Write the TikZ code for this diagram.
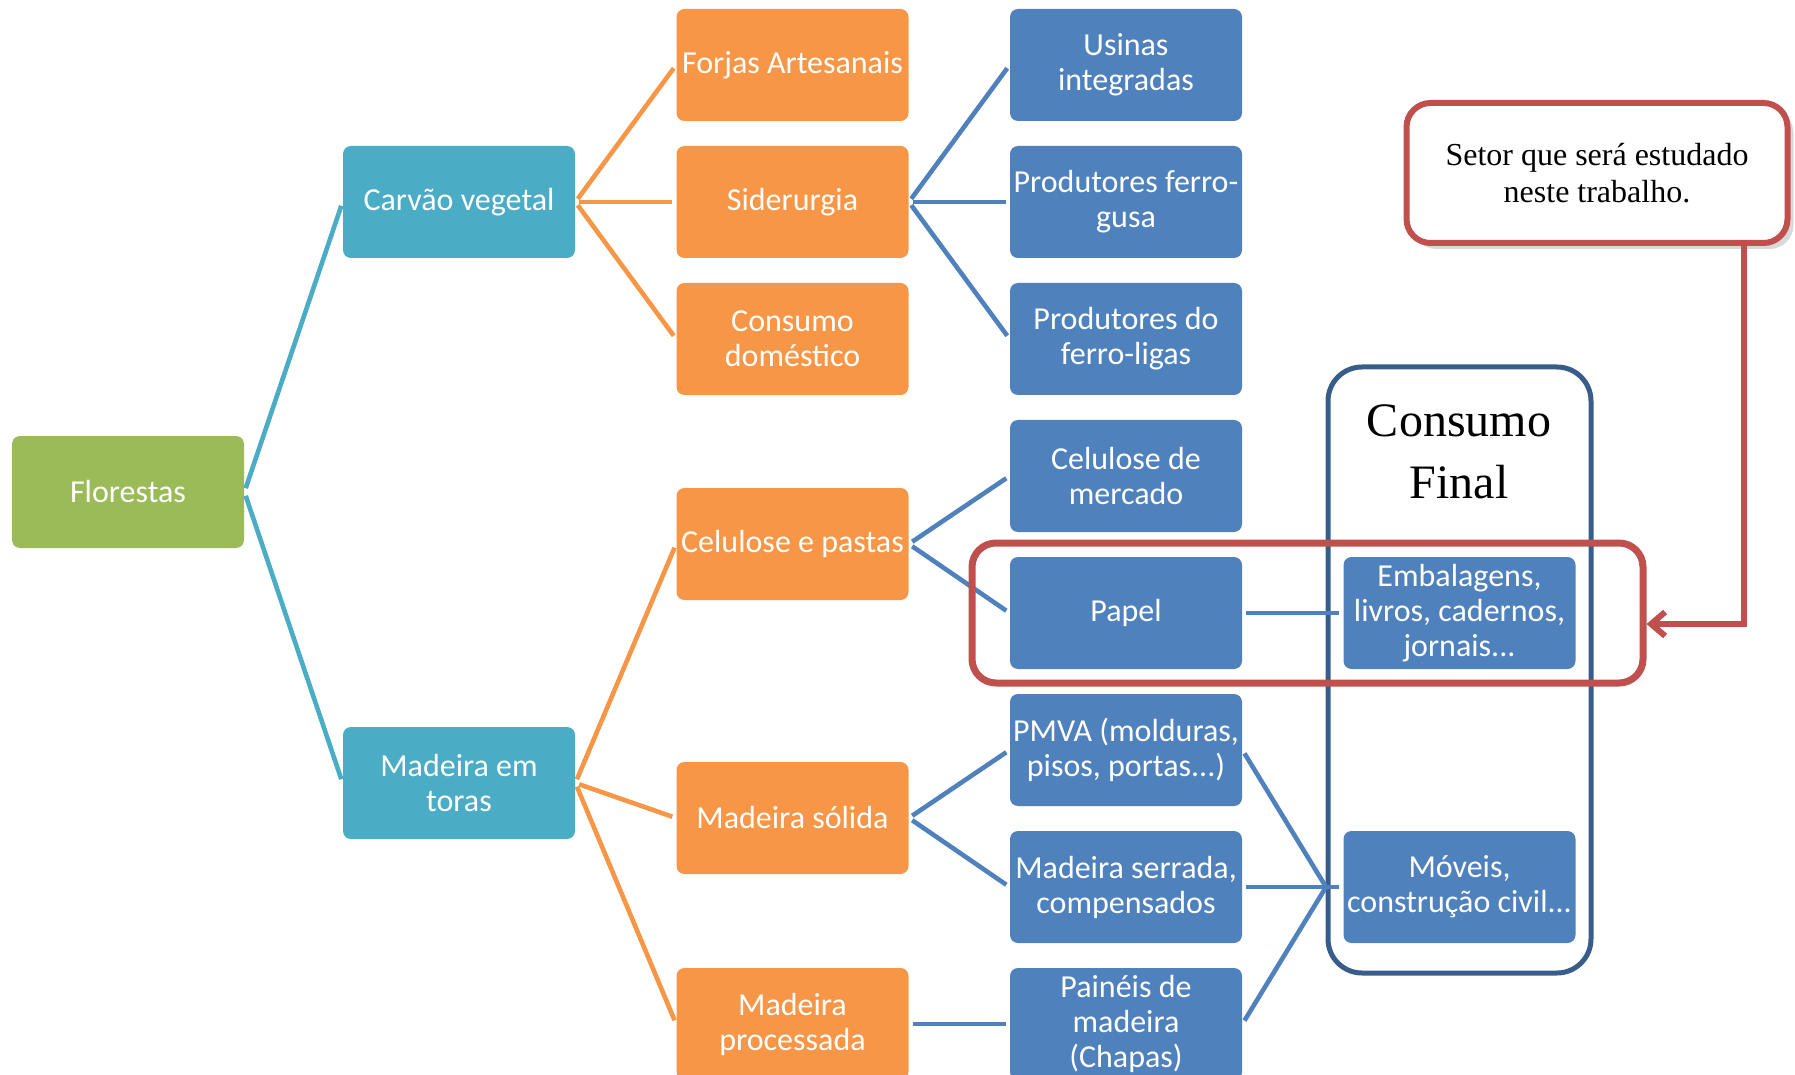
\documentclass[tikz,border=0pt]{standalone}
\usepackage{fontspec}
\setmainfont{Carlito}
\newfontfamily\fonteserif{Liberation Serif}
\usetikzlibrary{arrows.meta,shadows}

\definecolor{verde}{HTML}{9BBB59}
\definecolor{ciano}{HTML}{4BACC6}
\definecolor{laranja}{HTML}{F79646}
\definecolor{azul}{HTML}{4F81BD}
\definecolor{azulescuro}{HTML}{385D8A}
\definecolor{vermelho}{HTML}{C0504D}

\tikzset{
  caixa/.style={rounded corners=4pt, minimum width=116pt, minimum height=56pt,
    inner sep=1pt, align=center, text=white, font=\fontsize{16}{17.5}\selectfont},
  caixaverde/.style={caixa, fill=verde},
  caixaciano/.style={caixa, fill=ciano},
  caixalaranja/.style={caixa, fill=laranja},
  caixaazul/.style={caixa, fill=azul},
  coluna/.style={node distance=166.75pt},
  liga/.style={line width=2.3pt, shorten <=2pt, shorten >=2pt},
}

\begin{document}
\begin{tikzpicture}[x=0.5pt, y=-0.5pt, node distance=68.5pt]
  \useasboundingbox (0,0) rectangle (1795,1075);

  % consumo final (fundo)
  \node (final) [draw=azulescuro, line width=2.5pt, rounded corners=17pt,
    minimum width=131.5pt, minimum height=303pt] at (1459.5,670) {};
  \node (titulo) [align=center, font=\fonteserif\fontsize{24}{31}\selectfont]
    at (1459,452) {Consumo\\Final};

  % coluna azul
  \node (usinas) [caixaazul] at (1126,65) {Usinas\\integradas};
  \node (gusa) [caixaazul, below of=usinas] {Produtores ferro-\\gusa};
  \node (ligas) [caixaazul, below of=gusa] {Produtores do\\ferro-ligas};
  \node (mercado) [caixaazul, below of=ligas] {Celulose de\\mercado};
  \node (papel) [caixaazul, below of=mercado] {Papel};
  \node (pmva) [caixaazul, below of=papel] {PMVA (molduras,\\pisos, portas...)};
  \node (serrada) [caixaazul, below of=pmva] {Madeira serrada,\\compensados};
  \node (paineis) [caixaazul, below of=serrada] {Painéis de\\madeira\\(Chapas)};

  % coluna laranja
  \node (forjas) [caixalaranja, coluna, left of=usinas] {Forjas Artesanais};
  \node (siderurgia) [caixalaranja, coluna, left of=gusa] {Siderurgia};
  \node (domestico) [caixalaranja, coluna, left of=ligas] {Consumo\\doméstico};
  \node (celulose) [caixalaranja] at (792.5,544) {Celulose e pastas};
  \node (solida) [caixalaranja] at (792.5,818) {Madeira sólida};
  \node (processada) [caixalaranja, coluna, left of=paineis] {Madeira\\processada};

  \node (carvao) [caixaciano, coluna, left of=siderurgia] {Carvão vegetal};
  \node (toras) [caixaciano] at (459,783) {Madeira em\\toras};
  \node (florestas) [caixaverde] at (128,492) {Florestas};

  \node (embalagens) [caixaazul, coluna, right of=papel] {Embalagens,\\livros, cadernos,\\jornais...};
  \node (moveis) [caixaazul, coluna, right of=serrada] {Móveis,\\construção civil...};
  \coordinate (juncao) at (1326,887);

  \path[liga, draw=ciano]
    (florestas.east) edge (carvao.west)
                     edge (toras.west);
  \path[liga, draw=laranja]
    (carvao.east) edge (forjas.west)
                  edge (siderurgia.west)
                  edge (domestico.west)
    (toras.east) edge (celulose.west)
                 edge (solida.west)
                 edge (processada.west);
  \path[liga, draw=azul]
    (siderurgia.east) edge (usinas.west)
                      edge (gusa.west)
                      edge (ligas.west)
    (celulose.east) edge (mercado.west)
                    edge (papel.west)
    (solida.east) edge (pmva.west)
                  edge (serrada.west)
    (processada.east) edge (paineis.west)
    (papel.east) edge (embalagens.west)
    (serrada.east) edge (moveis.west)
    (pmva.east) edge[shorten >=0pt] (juncao)
    (paineis.east) edge[shorten >=0pt] (juncao);

  % destaque
  \node (destaque) [draw=vermelho, line width=3.5pt, rounded corners=12pt,
    minimum width=335.5pt, minimum height=70pt] at (1307.5,613) {};
  \node (setor) [draw=vermelho, fill=white, line width=3pt, rounded corners=12pt,
    minimum width=190.5pt, minimum height=70pt, align=center,
    font=\fonteserif\fontsize{16}{18.5}\selectfont,
    drop shadow={shadow xshift=3pt, shadow yshift=-3pt, opacity=0.3}]
    at (1597,173) {Setor que será estudado\\neste trabalho.};
  \coordinate (dobra) at (1744,624);
  \draw[vermelho, line width=3pt, -{Straight Barb[length=7pt, width=12pt]}]
    (setor.south -| dobra) -- (dobra) -- (dobra -| destaque.east);
\end{tikzpicture}
\end{document}
